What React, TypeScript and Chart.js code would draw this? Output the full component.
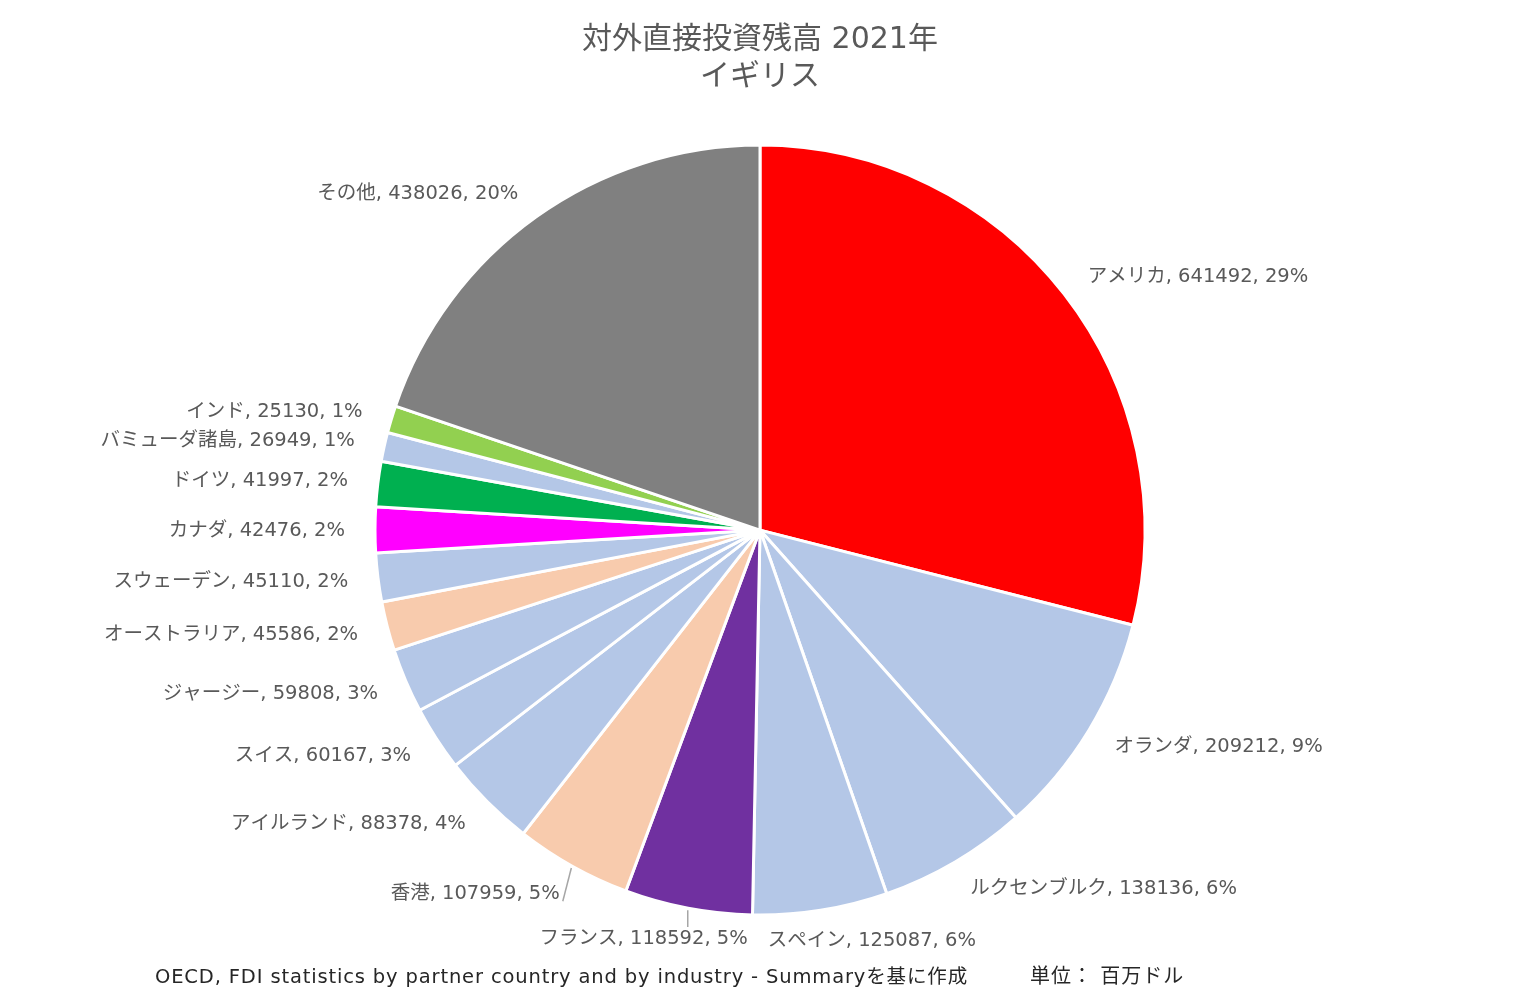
import React, { useEffect, useRef } from "react";
import { Chart, registerables } from "chart.js";

Chart.register(...registerables);

const categories = [
  "アメリカ",
  "オランダ",
  "ルクセンブルク",
  "スペイン",
  "フランス",
  "香港",
  "アイルランド",
  "スイス",
  "ジャージー",
  "オーストラリア",
  "スウェーデン",
  "カナダ",
  "ドイツ",
  "バミューダ諸島",
  "インド",
  "その他",
];

const values = [
  641492, 209212, 138136, 125087, 118592, 107959, 88378, 60167, 59808, 45586,
  45110, 42476, 41997, 26949, 25130, 438026,
];

const colors = [
  "#FF0000",
  "#B4C7E7",
  "#B4C7E7",
  "#B4C7E7",
  "#7030A0",
  "#F8CBAD",
  "#B4C7E7",
  "#B4C7E7",
  "#B4C7E7",
  "#F8CBAD",
  "#B4C7E7",
  "#FF00FF",
  "#00B050",
  "#B4C7E7",
  "#92D050",
  "#808080",
];

const titleLines = ["対外直接投資残高 2021年", "イギリス"];
const sourceText =
  "OECD, FDI statistics by partner country and by industry - Summaryを基に作成";
const unitText = "単位： 百万ドル";
const leaderLineCategories = ["香港", "フランス"];

const FONT = '"DejaVu Sans", "Noto Sans CJK JP", sans-serif';
const LABEL_SIZE = 19.5;
const LABEL_GAP = 30;
const TEXT_COLOR = "#595959";

const total = values.reduce((a, b) => a + b, 0);

const labelPlugin = {
  id: "outsideLabels",
  afterDatasetsDraw(chart: any) {
    const ctx = chart.ctx as CanvasRenderingContext2D;
    const meta = chart.getDatasetMeta(0);
    ctx.save();
    ctx.font = `${LABEL_SIZE}px ${FONT}`;
    ctx.textBaseline = "middle";
    const items = meta.data.map((arc: any, i: number) => {
      const p = arc.getProps(
        ["x", "y", "startAngle", "endAngle", "outerRadius"],
        true
      );
      const a = (p.startAngle + p.endAngle) / 2;
      const cos = Math.cos(a);
      const sin = Math.sin(a);
      const pct = Math.round((values[i] / total) * 100);
      const text = `${categories[i]}, ${values[i]}, ${pct}%`;
      const w = ctx.measureText(text).width;
      const px = p.x + cos * (p.outerRadius + LABEL_GAP);
      const py = p.y + sin * (p.outerRadius + LABEL_GAP) + 1;
      const t = Math.max(-1, Math.min(1, cos * 2));
      const left = px - (w * (1 - t)) / 2;
      return { i, text, w, left, cy: py, cos, sin, p };
    });
    // resolve horizontal overlaps for labels on the same row
    const sorted = [...items].sort((a, b) => a.left - b.left);
    for (let k = 1; k < sorted.length; k++) {
      for (let j = 0; j < k; j++) {
        const a = sorted[j];
        const b = sorted[k];
        if (Math.abs(a.cy - b.cy) < LABEL_SIZE * 1.2 && a.left + a.w + 20 > b.left) {
          b.left = a.left + a.w + 20;
        }
      }
    }
    // leader lines
    ctx.strokeStyle = "#A6A6A6";
    ctx.lineWidth = 1.5;
    items.forEach((it: any) => {
      if (!leaderLineCategories.includes(categories[it.i])) return;
      const ex = it.p.x + it.cos * (it.p.outerRadius + 2);
      const ey = it.p.y + it.sin * (it.p.outerRadius + 2);
      let tx: number;
      let ty: number;
      if (ex >= it.left && ex <= it.left + it.w) {
        tx = ex;
        ty = it.cy - LABEL_SIZE * 0.6;
      } else if (ex > it.left + it.w) {
        tx = it.left + it.w + 3;
        ty = it.cy + LABEL_SIZE * 0.4;
      } else {
        tx = it.left - 3;
        ty = it.cy + LABEL_SIZE * 0.4;
      }
      ctx.beginPath();
      ctx.moveTo(ex, ey);
      ctx.lineTo(tx, ty);
      ctx.stroke();
    });
    ctx.fillStyle = TEXT_COLOR;
    ctx.textAlign = "left";
    items.forEach((it: any) => {
      ctx.fillText(it.text, it.left, it.cy);
    });
    ctx.restore();
  },
  afterDraw(chart: any) {
    const ctx = chart.ctx as CanvasRenderingContext2D;
    ctx.save();
    ctx.font = `19.5px ${FONT}`;
    (ctx as any).letterSpacing = "0.85px";
    ctx.fillStyle = "#262626";
    ctx.textBaseline = "middle";
    ctx.textAlign = "left";
    ctx.fillText(sourceText, 155, 978);
    ctx.font = `20px ${FONT}`;
    (ctx as any).letterSpacing = "1px";
    ctx.fillText(unitText, 1030, 978);
    ctx.restore();
  },
};

export default function App() {
  const canvasRef = useRef<HTMLCanvasElement | null>(null);

  useEffect(() => {
    document.body.style.margin = "0";
    const canvas = canvasRef.current;
    if (!canvas) return;
    const chart = new Chart(canvas, {
      type: "pie",
      data: {
        labels: categories,
        datasets: [
          {
            data: values,
            backgroundColor: colors,
            borderColor: "#FFFFFF",
            borderWidth: 3,
            radius: 385,
          } as any,
        ],
      },
      options: {
        responsive: false,
        animation: false,
        layout: { padding: { top: 0, bottom: 30, left: 0, right: 4 } },
        plugins: {
          legend: { display: false },
          tooltip: { enabled: false },
          title: {
            display: true,
            text: titleLines,
            color: TEXT_COLOR,
            font: { family: FONT, size: 30, weight: "normal", lineHeight: 1.22 },
            padding: { top: 22, bottom: 0 },
          },
        },
      } as any,
      plugins: [labelPlugin],
    });
    return () => chart.destroy();
  }, []);

  return (
    <div style={{ position: "fixed", left: 0, top: 0, width: 1524, height: 995, background: "#FFFFFF" }}>
      <canvas ref={canvasRef} width={1524} height={995} />
    </div>
  );
}
